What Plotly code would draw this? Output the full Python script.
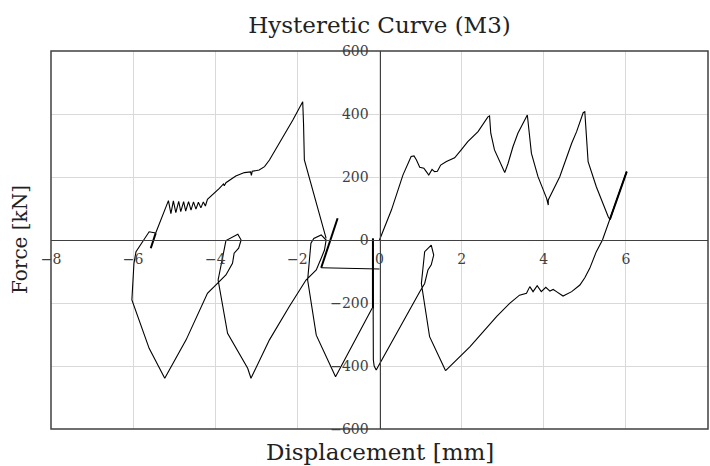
import plotly.graph_objects as go

# ---- data (displacement [mm], force [kN]) ----
env_x = [0, 0.29, 0.57, 0.77, 0.84, 0.90, 0.98, 1.08, 1.14, 1.20, 1.28, 1.34, 1.41, 1.49, 1.63, 1.83,
         1.99, 2.15, 2.40, 2.64, 2.68, 2.71, 2.80, 3.05, 3.13, 3.25, 3.37, 3.50, 3.58, 3.60, 3.70, 3.86,
         4.07, 4.11, 4.11, 4.39, 4.68, 4.80, 4.96, 5.00, 5.08, 5.28, 5.57, 5.61, 6.02]
env_y = [0, 95, 206, 265, 267, 254, 231, 228, 217, 206, 224, 217, 218, 238, 249, 261,
         286, 312, 344, 391, 394, 339, 286, 214, 243, 296, 339, 370, 394, 397, 275, 201,
         132, 111, 127, 201, 307, 344, 404, 407, 249, 169, 74, 65, 217]

unl_x = [6.02, 5.61, 5.49, 5.43, 5.28, 5.12, 5.00, 4.88, 4.68, 4.47, 4.31, 4.23, 4.15, 4.05, 3.94,
         3.84, 3.74, 3.66, 3.58, 3.50, 3.41, 3.17, 2.85, 2.20, 1.61]
unl_y = [217, 70, 26, 0, -37, -90, -120, -143, -164, -178, -164, -157, -162, -150, -164,
         -145, -164, -148, -169, -173, -175, -201, -243, -339, -415]

rel_x = [1.61, 1.22, 1.02, 1.10, 1.26, 1.32, 1.26, 1.18, 1.10, 0.98, -0.08, -0.13, -0.15, -0.16, -0.16]
rel_y = [-415, -307, -138, -37, -16, -48, -79, -95, -138, -164, -413, -400, -380, -230, 5]

hor_x = [0.0, -1.42]
hor_y = [-92, -88]

zig_x = [-1.30, -1.83, -1.85, -1.87, -2.11, -2.44, -2.68, -2.80, -2.93, -3.10, -3.12, -3.14, -3.29,
         -3.50, -3.74, -3.78, -3.80, -3.90, -4.07, -4.19, -4.24, -4.29, -4.35, -4.41, -4.47, -4.53,
         -4.59, -4.65, -4.72, -4.77, -4.84, -4.89, -4.96, -5.02, -5.08, -5.14, -5.45]
zig_y = [5, 254, 370, 439, 381, 307, 254, 233, 222, 218, 205, 216, 214,
         203, 182, 172, 178, 164, 143, 129, 108, 121, 102, 120, 98, 121,
         95, 122, 92, 122, 90, 123, 87, 124, 84, 125, 22]

neg_x = [-5.45, -5.61, -5.93, -5.98, -6.03, -5.61, -5.23, -4.71, -4.19, -3.94, -3.74, -3.58, -3.54,
         -3.43, -3.37, -3.45, -3.74, -3.93, -3.70, -3.21, -3.13, -2.68, -2.20, -1.79, -1.54, -1.42,
         -1.34, -1.30, -1.42, -1.60, -1.67, -1.75, -1.54, -1.07, -0.18]
neg_y = [22, 26, -37, -74, -190, -344, -439, -317, -169, -138, -111, -74, -42,
         -26, 0, 18, -2, -127, -296, -407, -439, -317, -212, -127, -95, -58,
         -32, 0, 16, 5, -10, -127, -302, -434, -217]

# short strokes that the reference shows heavy (several overlapping passes)
heavy = [
    ([5.61, 6.02], [65, 217]),
    ([-1.42, -1.02], [-88, 69]),
    ([-5.45, -5.57], [22, -26]),
    ([-0.16, -0.16], [5, -217]),
]

x_range = [-8, 8]
y_range = [-600, 600]

fig = go.Figure()
for xs, ys in [(env_x, env_y), (unl_x, unl_y), (rel_x, rel_y), (hor_x, hor_y),
               (zig_x, zig_y), (neg_x, neg_y)]:
    fig.add_trace(go.Scatter(x=xs, y=ys, mode="lines", showlegend=False,
                             line=dict(color="black", width=1.1)))
for xs, ys in heavy:
    fig.add_trace(go.Scatter(x=xs, y=ys, mode="lines", showlegend=False,
                             line=dict(color="black", width=2)))

font_family = "DejaVu Serif"
tick_font = dict(family=font_family, size=14, color="#404040")

fig.update_layout(
    width=710, height=466,
    margin=dict(l=51, r=2, t=51, b=37),
    paper_bgcolor="white", plot_bgcolor="white",
    title=dict(text="Hysteretic Curve (M3)", x=0.5, xref="paper", xanchor="center",
               y=1 - 25 / 466, yref="container", yanchor="middle",
               font=dict(family=font_family, size=23, color="#222222")),
    xaxis=dict(range=x_range, dtick=2, tick0=0, anchor="free",
               position=(0 - y_range[0]) / (y_range[1] - y_range[0]),
               showgrid=True, gridcolor="#d9d9d9", gridwidth=1,
               zeroline=False, showline=True, linecolor="#404040", linewidth=1,
               ticks="", ticklabelstandoff=6, tickfont=tick_font),
    yaxis=dict(range=y_range, dtick=200, tick0=0, anchor="free",
               position=(0 - x_range[0]) / (x_range[1] - x_range[0]),
               showgrid=True, gridcolor="#d9d9d9", gridwidth=1,
               zeroline=False, showline=True, linecolor="#404040", linewidth=1,
               ticks="", ticklabelstandoff=8, tickfont=tick_font),
    shapes=[dict(type="rect", xref="paper", yref="paper", x0=0, x1=1, y0=0, y1=1,
                 line=dict(color="#404040", width=1.5), layer="above")],
    annotations=[
        dict(text="Displacement [mm]", xref="paper", yref="paper", x=0.5, y=-(452 - 429) / 378,
             xanchor="center", yanchor="middle", showarrow=False,
             font=dict(family=font_family, size=23, color="#222222")),
        dict(text="Force [kN]", xref="paper", yref="paper", x=-31 / 657, y=0.5,
             xanchor="center", yanchor="middle", textangle=-90, showarrow=False,
             font=dict(family=font_family, size=20, color="#222222")),
    ],
)

fig.write_html("out.html")
